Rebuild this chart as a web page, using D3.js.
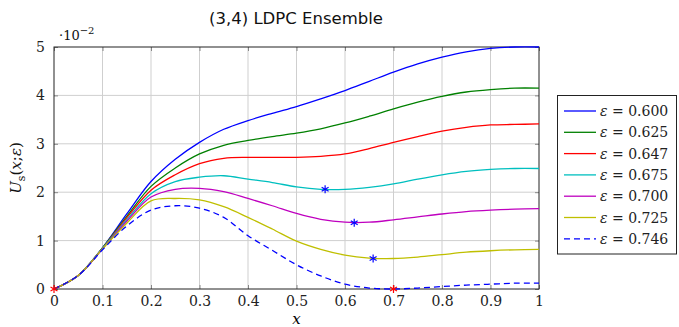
<!DOCTYPE html>
<html>
<head>
<meta charset="utf-8">
<script src="https://cdn.jsdelivr.net/npm/d3@7"></script>
<style>
  html, body { margin: 0; padding: 0; background: #fff; }
  svg { display: block; }
  .tick text { font-family: "DejaVu Serif", serif; font-size: 14px; fill: #222; }
</style>
</head>
<body>
<svg id="chart" width="679" height="327"></svg>
<script>
// Sample positions along x
const xs = [0, 0.05, 0.1, 0.15, 0.2, 0.25, 0.3, 0.35, 0.4, 0.45, 0.5,
            0.55, 0.6, 0.65, 0.7, 0.75, 0.8, 0.85, 0.9, 0.95, 1.0];

// U_s(x; eps) in units of 1e-2, one list per erasure probability
const epsLabels = ["0.600", "0.625", "0.647", "0.675", "0.700", "0.725", "0.746"];
const u600 = [0, 0.28, 0.85, 1.55, 2.22, 2.68, 3.03, 3.30, 3.48, 3.63, 3.77, 3.93, 4.10, 4.29, 4.48, 4.65, 4.79, 4.90, 4.97, 5.00, 5.00];
const u625 = [0, 0.28, 0.85, 1.50, 2.12, 2.50, 2.79, 2.97, 3.07, 3.15, 3.22, 3.31, 3.43, 3.57, 3.72, 3.86, 3.98, 4.07, 4.12, 4.15, 4.15];
const u647 = [0, 0.28, 0.84, 1.47, 2.04, 2.36, 2.59, 2.70, 2.72, 2.72, 2.72, 2.74, 2.79, 2.90, 3.03, 3.15, 3.26, 3.34, 3.39, 3.40, 3.41];
const u675 = [0, 0.28, 0.84, 1.43, 1.97, 2.22, 2.31, 2.34, 2.27, 2.20, 2.11, 2.06, 2.06, 2.10, 2.17, 2.27, 2.36, 2.43, 2.47, 2.49, 2.49];
const u700 = [0, 0.28, 0.83, 1.40, 1.90, 2.06, 2.08, 2.01, 1.87, 1.72, 1.56, 1.44, 1.38, 1.38, 1.43, 1.49, 1.55, 1.60, 1.63, 1.65, 1.66];
const u725 = [0, 0.28, 0.83, 1.36, 1.82, 1.87, 1.84, 1.70, 1.48, 1.24, 0.99, 0.82, 0.70, 0.64, 0.63, 0.66, 0.71, 0.76, 0.79, 0.81, 0.82];
const u746 = [0, 0.28, 0.81, 1.30, 1.63, 1.72, 1.67, 1.48, 1.10, 0.80, 0.50, 0.27, 0.10, 0.02, 0.00, 0.02, 0.05, 0.08, 0.10, 0.12, 0.12];

// Minimum points of the potential (blue) and zero crossings (red)
const minPoints = [[0.559, 2.06], [0.619, 1.37], [0.658, 0.63]];
const zeroPoints = [[0, 0], [0.70, 0]];

const xTicks = [0, 0.1, 0.2, 0.3, 0.4, 0.5, 0.6, 0.7, 0.8, 0.9, 1];
const yTicks = [0, 1, 2, 3, 4, 5];

const seriesValues = [u600, u625, u647, u675, u700, u725, u746];
const colors = ["#0000ff", "#008000", "#ff0000", "#00bfbf", "#bf00bf", "#bfbf00", "#0000ff"];
const dashes = [null, null, null, null, null, null, "6,4"];

const svg = d3.select("#chart");
const L = 54, R = 539, T = 47, B = 289;
const x = d3.scaleLinear().domain([0, 1]).range([L, R]);
const y = d3.scaleLinear().domain([0, 5]).range([B, T]);

// Grid
const grid = svg.append("g");
grid.selectAll(".gx").data(xTicks.slice(1, -1)).join("line")
  .attr("x1", d => x(d)).attr("x2", d => x(d)).attr("y1", T).attr("y2", B)
  .attr("stroke", "#cfcfcf").attr("stroke-width", 1);
grid.selectAll(".gy").data(yTicks.slice(1, -1)).join("line")
  .attr("x1", L).attr("x2", R).attr("y1", d => y(d)).attr("y2", d => y(d))
  .attr("stroke", "#cfcfcf").attr("stroke-width", 1);

// Axes (inner ticks on all sides)
const fmtX = d => d === 0 ? "0" : d === 1 ? "1" : d3.format(".1f")(d);
const axB = svg.append("g").attr("transform", `translate(0,${B})`)
  .call(d3.axisBottom(x).tickValues(xTicks).tickFormat(fmtX).tickSize(-4).tickPadding(7));
const axT = svg.append("g").attr("transform", `translate(0,${T})`)
  .call(d3.axisTop(x).tickValues(xTicks).tickFormat("").tickSize(-4));
const axL = svg.append("g").attr("transform", `translate(${L},0)`)
  .call(d3.axisLeft(y).tickValues(yTicks).tickFormat(d3.format("d")).tickSize(-4).tickPadding(9));
const axR = svg.append("g").attr("transform", `translate(${R},0)`)
  .call(d3.axisRight(y).tickValues(yTicks).tickFormat("").tickSize(-4));
[axB, axT, axL, axR].forEach(g => {
  g.select(".domain").remove();
  g.selectAll(".tick line").attr("stroke", "#888").attr("stroke-width", 1);
});
axB.selectAll(".tick text").attr("dy", "0.71em");
svg.append("rect").attr("x", L).attr("y", T).attr("width", R - L).attr("height", B - T)
  .attr("fill", "none").attr("stroke", "#222").attr("stroke-width", 1);

// Curves
const line = d3.line().x((d, i) => x(xs[i])).y(d => y(d)).curve(d3.curveCatmullRom.alpha(0.5));
const plot = svg.append("g");
seriesValues.forEach((vals, i) => {
  plot.append("path").datum(vals)
    .attr("d", line)
    .attr("fill", "none")
    .attr("stroke", colors[i])
    .attr("stroke-width", 1.3)
    .attr("stroke-dasharray", dashes[i]);
});

// Asterisk markers
function asterisk(g, cx, cy, color) {
  const r = 4;
  [90, 30, -30].forEach(a => {
    const rad = a * Math.PI / 180;
    g.append("line")
      .attr("x1", cx - r * Math.cos(rad)).attr("y1", cy - r * Math.sin(rad))
      .attr("x2", cx + r * Math.cos(rad)).attr("y2", cy + r * Math.sin(rad))
      .attr("stroke", color).attr("stroke-width", 1.2);
  });
}
minPoints.forEach(p => asterisk(plot, x(p[0]), y(p[1]), "#0000ff"));
zeroPoints.forEach(p => asterisk(plot, x(p[0]), y(p[1]), "#ff0000"));

// Title
svg.append("text").attr("x", 296).attr("y", 24)
  .attr("text-anchor", "middle")
  .style("font-family", "'DejaVu Sans', sans-serif").style("font-size", "16.5px").style("fill", "#111")
  .text("(3,4) LDPC Ensemble");

// Axis scale factor
const sf = svg.append("text").attr("x", 59).attr("y", 40)
  .style("font-family", "'DejaVu Serif', serif").style("font-size", "13px").style("fill", "#111");
sf.append("tspan").text("·10");
sf.append("tspan").attr("dy", -6).style("font-size", "10px").text("−2");

// Axis labels
svg.append("text").attr("x", (L + R) / 2).attr("y", 324)
  .attr("text-anchor", "middle")
  .style("font-family", "'DejaVu Serif', serif").style("font-style", "italic").style("font-size", "15px")
  .text("x");

const yl = svg.append("text")
  .attr("transform", `translate(21,${(T + B) / 2}) rotate(-90)`)
  .attr("text-anchor", "middle")
  .style("font-family", "'DejaVu Serif', serif").style("font-size", "15px").style("fill", "#111");
yl.append("tspan").style("font-style", "italic").text("U");
yl.append("tspan").attr("dy", 4).style("font-size", "11px").text("s");
yl.append("tspan").attr("dy", -4).text("(");
yl.append("tspan").style("font-style", "italic").text("x");
yl.append("tspan").text(";");
yl.append("tspan").style("font-style", "italic").text("ε");
yl.append("tspan").text(")");

// Legend
const lg = svg.append("g");
lg.append("rect").attr("x", 557.5).attr("y", 95.5).attr("width", 119).attr("height", 158.5)
  .attr("fill", "#fff").attr("stroke", "#222").attr("stroke-width", 1);
epsLabels.forEach((lab, i) => {
  const cy = 111 + i * 21.3;
  lg.append("line").attr("x1", 564).attr("x2", 596).attr("y1", cy).attr("y2", cy)
    .attr("stroke", colors[i]).attr("stroke-width", 1.3).attr("stroke-dasharray", dashes[i]);
  const t = lg.append("text").attr("x", 600).attr("y", cy + 5)
    .style("font-family", "'DejaVu Serif', serif").style("font-size", "14px").style("fill", "#222");
  t.append("tspan").style("font-style", "italic").text("ε");
  t.append("tspan").text(" = " + lab);
});
</script>
</body>
</html>
